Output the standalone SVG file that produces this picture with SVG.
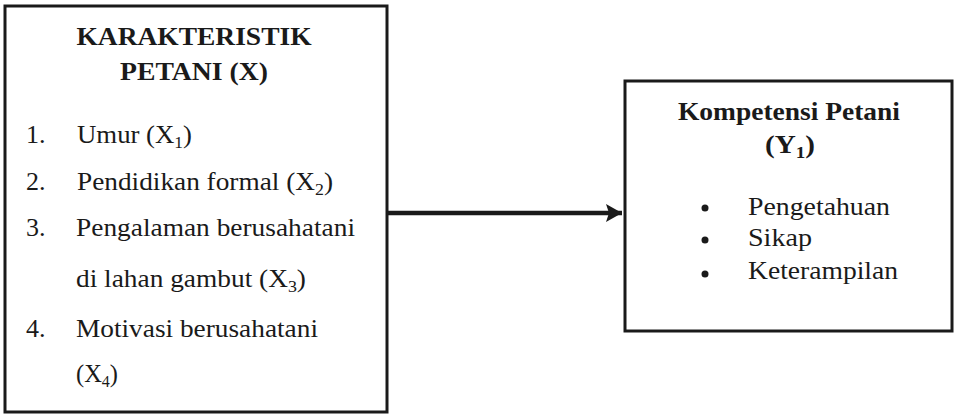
<svg xmlns="http://www.w3.org/2000/svg" width="957" height="419" viewBox="0 0 957 419">
<defs>
<style>
.box{fill:#fff;stroke:#1a1a1a;stroke-width:3}
text{font-family:"Liberation Serif","Times New Roman",serif;fill:#1a1a1a;font-size:26px}
.b{font-weight:bold}
.c{text-anchor:middle}
.conn{stroke:#1a1a1a;stroke-width:4.5;fill:none}
</style>
<marker id="ah" markerUnits="userSpaceOnUse" markerWidth="20" markerHeight="22" refX="16" refY="9" orient="auto">
<polygon points="0,0 16,9 0,18 3,9" fill="#1a1a1a"/>
</marker>
</defs>
<rect width="957" height="419" fill="#fff"/>
<g id="connectors">
<line class="conn" x1="377" y1="213" x2="622" y2="213" marker-end="url(#ah)"/>
</g>
<g id="node-x">
<rect class="box" x="5" y="6" width="382" height="406"/>
<text class="b c" x="194" y="45" textLength="235" lengthAdjust="spacingAndGlyphs">KARAKTERISTIK</text>
<text class="b c" x="194" y="80" textLength="148" lengthAdjust="spacingAndGlyphs">PETANI (X)</text>
<text x="26" y="143">1.</text>
<text x="77" y="143" textLength="115" lengthAdjust="spacingAndGlyphs">Umur (X<tspan font-size="17" dy="5">1</tspan><tspan dy="-5">)</tspan></text>
<text x="26" y="190">2.</text>
<text x="77" y="190" textLength="256" lengthAdjust="spacingAndGlyphs">Pendidikan formal (X<tspan font-size="17" dy="5">2</tspan><tspan dy="-5">)</tspan></text>
<text x="26" y="236">3.</text>
<text x="76" y="236" textLength="279" lengthAdjust="spacingAndGlyphs">Pengalaman berusahatani</text>
<text x="76" y="287" textLength="230" lengthAdjust="spacingAndGlyphs">di lahan gambut (X<tspan font-size="17" dy="5">3</tspan><tspan dy="-5">)</tspan></text>
<text x="26" y="337">4.</text>
<text x="76" y="337" textLength="242" lengthAdjust="spacingAndGlyphs">Motivasi berusahatani</text>
<text x="76" y="382" textLength="42" lengthAdjust="spacingAndGlyphs">(X<tspan font-size="17" dy="5">4</tspan><tspan dy="-5">)</tspan></text>
</g>
<g id="node-y">
<rect class="box" x="625" y="81" width="327" height="250"/>
<text class="b c" x="789" y="120" textLength="222" lengthAdjust="spacingAndGlyphs">Kompetensi Petani</text>
<text class="b c" x="790" y="153" textLength="50" lengthAdjust="spacingAndGlyphs">(Y<tspan font-size="17" dy="5">1</tspan><tspan dy="-5">)</tspan></text>
<circle cx="705" cy="208" r="3.5" fill="#1a1a1a"/>
<circle cx="705" cy="240" r="3.5" fill="#1a1a1a"/>
<circle cx="705" cy="274" r="3.5" fill="#1a1a1a"/>
<text x="748" y="215" textLength="142" lengthAdjust="spacingAndGlyphs">Pengetahuan</text>
<text x="748" y="246" textLength="64" lengthAdjust="spacingAndGlyphs">Sikap</text>
<text x="748" y="279" textLength="150" lengthAdjust="spacingAndGlyphs">Keterampilan</text>
</g>
</svg>
